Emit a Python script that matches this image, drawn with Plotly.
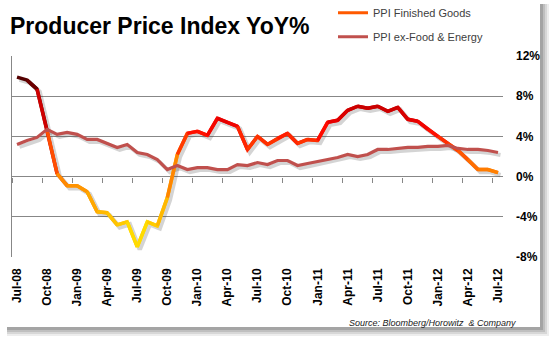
import plotly.graph_objects as go
import plotly.colors as pc
import pandas as pd

# ---------------- data ----------------
months = pd.date_range("2008-07-01", "2012-07-01", freq="MS").strftime("%b-%y").tolist()

ppi_finished_goods = [9.9, 9.6, 8.7, 4.6, 0.3, -0.9, -0.9, -1.5, -3.5, -3.6,
                      -4.8, -4.5, -7.0, -4.5, -4.9, -2.1, 2.2, 4.3, 4.5, 4.1,
                      5.8, 5.4, 5.0, 2.7, 4.0, 3.2, 3.8, 4.3, 3.3, 3.7,
                      3.6, 5.4, 5.6, 6.6, 7.0, 6.8, 7.0, 6.5, 6.9, 5.7,
                      5.5, 4.7, 4.0, 3.3, 2.6, 1.7, 0.7, 0.7, 0.4]

ppi_ex_food_energy = [3.2, 3.6, 3.9, 4.7, 4.2, 4.4, 4.2, 3.7, 3.7, 3.3,
                      2.9, 3.2, 2.4, 2.2, 1.7, 0.7, 1.1, 0.7, 0.9, 0.9,
                      0.7, 0.7, 1.2, 1.1, 1.4, 1.2, 1.6, 1.6, 1.1, 1.3,
                      1.5, 1.7, 1.9, 2.2, 2.0, 2.2, 2.7, 2.7, 2.8, 2.9,
                      2.9, 3.0, 3.0, 3.1, 2.8, 2.7, 2.7, 2.6, 2.4]

x_tick_labels = ["Jul-08", "Oct-08", "Jan-09", "Apr-09", "Jul-09", "Oct-09",
                 "Jan-10", "Apr-10", "Jul-10", "Oct-10", "Jan-11", "Apr-11",
                 "Jul-11", "Oct-11", "Jan-12", "Apr-12", "Jul-12"]
y_tick_values = [-8, -4, 0, 4, 8, 12]
y_tick_labels = ["-8%", "-4%", "0%", "4%", "8%", "12%"]

series_names = ["PPI Finished Goods", "PPI ex-Food & Energy"]

# ---------------- layout helpers ----------------
W, H = 555, 342
ML, MR, MT, MB = 12, 52, 56, 85
PW, PH = W - ML - MR, H - MT - MB


def px_x(px):
    return (px - ML) / PW


def px_y(py):
    return 1 - (py - MT) / PH


GRID = "#878787"
CORE_COLOR = "#C0504D"
FONT = "Liberation Sans"

# value -> colour gradient for the finished goods line
grad_stops = [(-7, "#FFEE00"), (-4.5, "#FFC800"), (-2, "#FFA000"), (0.5, "#FF8000"),
              (2, "#FF5A00"), (3.5, "#FF3300"), (4.5, "#FF0A00"), (5.5, "#E80000"),
              (7, "#C80000"), (8.7, "#800000"), (10, "#4A0000")]
vmin, vmax = grad_stops[0][0], grad_stops[-1][0]
colorscale = [[(v - vmin) / (vmax - vmin), "rgb(%d,%d,%d)" % pc.hex_to_rgb(c)] for v, c in grad_stops]

n = len(months)
y_lo, y_hi = -8, 12
x_lo, x_hi = -0.5, n - 0.5

fig = go.Figure()

# ---- drop shadows of the lines (base subplot with slightly shifted ranges) ----
for vals, w in [(ppi_finished_goods, 4.5), (ppi_ex_food_energy, 4)]:
    fig.add_trace(go.Scatter(x=months, y=vals, mode="lines",
                             line=dict(color="rgba(60,60,60,0.22)", width=w),
                             xaxis="x", yaxis="y", showlegend=False, hoverinfo="skip"))

# ---- finished goods, coloured segment by segment ----
for i in range(n - 1):
    m = (ppi_finished_goods[i] + ppi_finished_goods[i + 1]) / 2
    t = min(max((m - vmin) / (vmax - vmin), 0), 1)
    col = pc.sample_colorscale(colorscale, [t])[0]
    j = min(i + 3, n)
    fig.add_trace(go.Scatter(x=months[i:j], y=ppi_finished_goods[i:j], mode="lines",
                             line=dict(color=col, width=3.5),
                             xaxis="x2", yaxis="y2", showlegend=False, hoverinfo="skip"))

# ---- ex food & energy ----
fig.add_trace(go.Scatter(x=months, y=ppi_ex_food_energy, mode="lines",
                         line=dict(color=CORE_COLOR, width=3.2),
                         xaxis="x2", yaxis="y2", showlegend=False, name=series_names[1]))

# ---- legend entries ----
fig.add_trace(go.Scatter(x=[None], y=[None], mode="lines", name=series_names[0],
                         line=dict(color="#FF5A00", width=3), xaxis="x2", yaxis="y2",
                         legend="legend"))
fig.add_trace(go.Scatter(x=[None], y=[None], mode="lines", name=series_names[1],
                         line=dict(color=CORE_COLOR, width=3), xaxis="x2", yaxis="y2",
                         legend="legend2"))

# ---- helper trace for the tick marks on the 0% line ----
fig.add_trace(go.Scatter(x=[None], y=[None], xaxis="x4", yaxis="y2", showlegend=False,
                         hoverinfo="skip"))

tick_font = dict(family=FONT, size=12, color="black", weight="bold")
boundary_ticks = [months.index(lbl) - 0.5 for lbl in x_tick_labels]

shapes = []
# card shadow
for w, a in [(9, 0.07), (7, 0.09), (5, 0.11), (3, 0.14)]:
    shapes.append(dict(type="rect", xref="paper", yref="paper", layer="below",
                       x0=px_x(7), x1=px_x(540 + w), y0=px_y(327 + w), y1=px_y(4),
                       fillcolor="rgba(0,0,0,%.2f)" % a, line=dict(width=0)))
shapes.append(dict(type="rect", xref="paper", yref="paper", layer="below",
                   x0=px_x(0), x1=px_x(540), y0=px_y(327), y1=px_y(0),
                   fillcolor="white", line=dict(width=0)))

fig.update_layout(
    width=W, height=H,
    margin=dict(l=ML, r=MR, t=MT, b=MB, pad=0, autoexpand=False),
    paper_bgcolor="white", plot_bgcolor="rgba(0,0,0,0)",
    font=dict(family=FONT, color="black"),
    shapes=shapes,
    # base subplot (shadow), shifted 2.5px right and down
    xaxis=dict(type="category", categoryorder="array", categoryarray=months,
               range=[x_lo - 0.25, x_hi - 0.25], visible=False, fixedrange=True),
    yaxis=dict(range=[y_lo + 0.25, y_hi + 0.25], visible=False, fixedrange=True),
    # main subplot
    xaxis2=dict(type="category", categoryorder="array", categoryarray=months,
                overlaying="x", anchor="y2", range=[x_lo, x_hi],
                tickmode="array", tickvals=x_tick_labels, ticktext=x_tick_labels,
                tickangle=-90, tickfont=tick_font, ticks="", showgrid=False,
                showline=False, zeroline=False, ticklabelstandoff=8),
    yaxis2=dict(overlaying="y", anchor="x2", side="left", range=[y_lo, y_hi],
                tickmode="array", tickvals=y_tick_values, showticklabels=False,
                showgrid=True, gridcolor=GRID, gridwidth=1, zeroline=False,
                showline=True, linecolor=GRID, linewidth=1, ticks=""),
    yaxis3=dict(overlaying="y", anchor="x2", side="right", range=[y_lo, y_hi],
                tickmode="array", tickvals=y_tick_values, ticktext=y_tick_labels,
                tickfont=tick_font, showgrid=False, zeroline=False, showline=False,
                ticks="", ticklabelstandoff=12),
    xaxis4=dict(type="linear", overlaying="x", anchor="free",
                position=(0 - y_lo) / (y_hi - y_lo), range=[x_lo, x_hi],
                tickmode="array", tickvals=boundary_ticks, ticks="outside",
                ticklen=5, tickcolor=GRID, tickwidth=1, showticklabels=False,
                showgrid=False, zeroline=False, showline=False),
    legend=dict(x=px_x(333), y=px_y(12.7), xanchor="left", yanchor="middle",
                bgcolor="rgba(0,0,0,0)", font=dict(family=FONT, size=11, color="#404040")),
    legend2=dict(x=px_x(333), y=px_y(36.7), xanchor="left", yanchor="middle",
                 bgcolor="rgba(0,0,0,0)", font=dict(family=FONT, size=11, color="#404040")),
    annotations=[
        dict(text="<b>Producer Price Index YoY%</b>", xref="paper", yref="paper",
             x=px_x(8), y=px_y(26), xanchor="left", yanchor="middle", showarrow=False,
             font=dict(family=FONT, size=23, color="black")),
        dict(text="<i>Source: Bloomberg/Horowitz &nbsp;& Company</i>", xref="paper", yref="paper",
             x=px_x(518), y=px_y(323), xanchor="right", yanchor="middle", showarrow=False,
             font=dict(family=FONT, size=9, color="#1a1a1a")),
    ],
)

# make the right-hand axis render even though it carries no trace
fig.add_trace(go.Scatter(x=[None], y=[None], xaxis="x2", yaxis="y3", showlegend=False,
                         hoverinfo="skip"))

fig.write_html("out.html")
